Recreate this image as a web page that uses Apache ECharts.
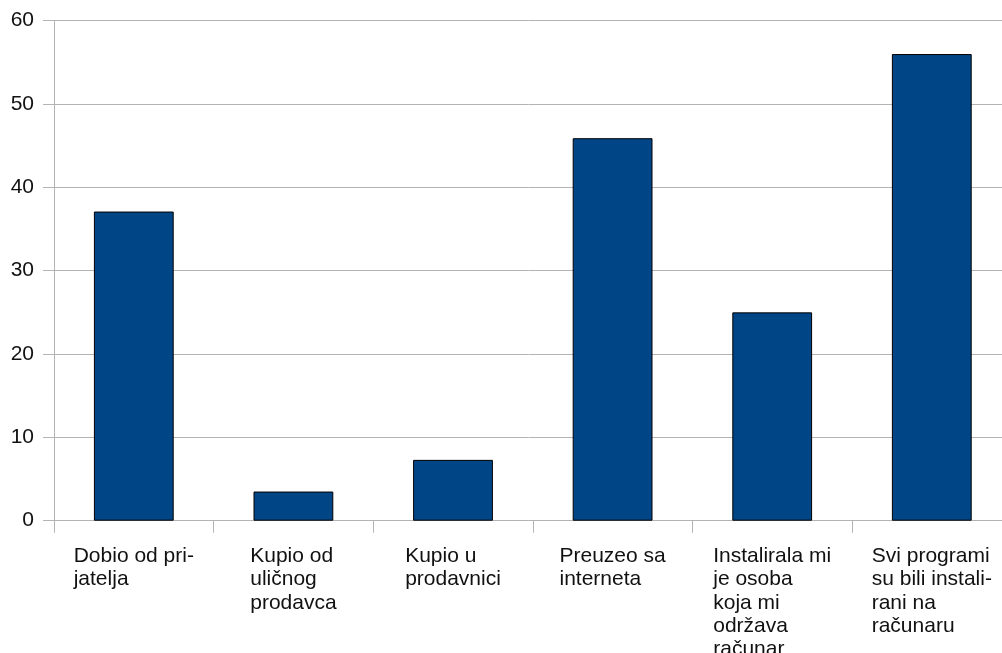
<!DOCTYPE html>
<html>
<head>
<meta charset="utf-8">
<script src="https://cdn.jsdelivr.net/npm/echarts@6/dist/echarts.min.js"></script>
<style>
html,body{margin:0;padding:0;background:#fff;}
#chart{width:1002px;height:653px;}
</style>
</head>
<body>
<div id="chart"></div>
<script>
const categories = [
  "Dobio od pri-\njatelja",
  "Kupio od\nuličnog\nprodavca",
  "Kupio u\nprodavnici",
  "Preuzeo sa\ninterneta",
  "Instalirala mi\nje osoba\nkoja mi\nodržava\nračunar",
  "Svi programi\nsu bili instali-\nrani na\nračunaru"
];
const values = [37.1, 3.5, 7.3, 45.9, 25.0, 56.0];
const yTicks = [0, 10, 20, 30, 40, 50, 60];

const chart = echarts.init(document.getElementById('chart'), null, {renderer: 'canvas'});
const grey = '#b3b3b3';
const font = 'Liberation Sans, Arial, sans-serif';
chart.setOption({
  animation: false,
  backgroundColor: '#ffffff',
  textStyle: {fontFamily: font},
  grid: {left: 54, top: 20.7, width: 957.6, height: 500, containLabel: false, outerBoundsMode: 'none'},
  xAxis: {
    type: 'category',
    data: categories,
    axisLine: {show: true, lineStyle: {color: grey, width: 1}},
    axisTick: {show: true, length: 12, interval: 0, alignWithLabel: false, lineStyle: {color: grey}},
    axisLabel: {
      interval: 0,
      margin: 24,
      color: '#111',
      fontSize: 21,
      lineHeight: 23.3,
      hideOverlap: false,
      fontFamily: font,
      formatter: function (v) {
        return v.split('\n').map(function (l) { return '{a|' + l + '}'; }).join('\n');
      },
      rich: {a: {align: 'left', fontSize: 21, lineHeight: 23.3, color: '#111', fontFamily: font}}
    },
    splitLine: {show: false}
  },
  yAxis: {
    type: 'value',
    min: yTicks[0],
    max: yTicks[yTicks.length - 1],
    interval: 10,
    axisLine: {show: true, lineStyle: {color: grey, width: 1}},
    axisTick: {show: true, length: 11, lineStyle: {color: grey}},
    axisLabel: {margin: 20, color: '#111', fontSize: 21, fontFamily: font},
    splitLine: {show: true, lineStyle: {color: grey, width: 1}}
  },
  series: [{
    type: 'bar',
    data: values,
    barWidth: '50%',
    itemStyle: {color: '#004586', borderColor: '#000000', borderWidth: 1}
  }]
});
</script>
</body>
</html>
